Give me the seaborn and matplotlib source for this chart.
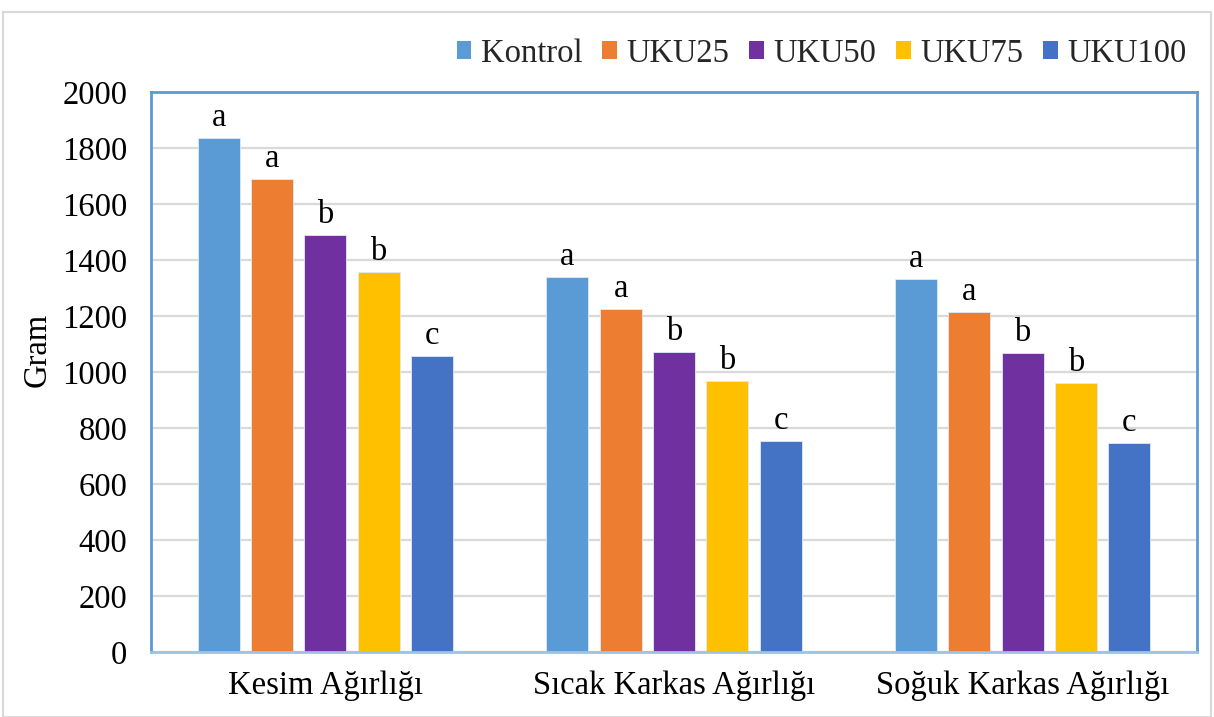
import pandas as pd
import matplotlib.pyplot as plt
import seaborn as sns
from matplotlib.patches import Patch, Rectangle

# ---------------------------------------------------------
# DATA
# ---------------------------------------------------------
categories = ["Kesim Ağırlığı", "Sıcak Karkas Ağırlığı", "Soğuk Karkas Ağırlığı"]
groups = ["Kontrol", "UKU25", "UKU50", "UKU75", "UKU100"]

kontrol = [1835, 1339, 1332]
uku25 = [1688, 1225, 1215]
uku50 = [1488, 1071, 1067]
uku75 = [1356, 968, 961]
uku100 = [1058, 754, 746]

letters_kontrol = ["a", "a", "a"]
letters_uku25 = ["a", "a", "a"]
letters_uku50 = ["b", "b", "b"]
letters_uku75 = ["b", "b", "b"]
letters_uku100 = ["c", "c", "c"]

y_ticks = [0, 200, 400, 600, 800, 1000, 1200, 1400, 1600, 1800, 2000]

colors = ["#5B9BD5", "#ED7D31", "#7030A0", "#FFC000", "#4472C4"]

series = [kontrol, uku25, uku50, uku75, uku100]
letters = [letters_kontrol, letters_uku25, letters_uku50, letters_uku75, letters_uku100]

rows = []
for g, vals in zip(groups, series):
    for c, v in zip(categories, vals):
        rows.append({"Kategori": c, "Grup": g, "Gram": v})
df = pd.DataFrame(rows)

# ---------------------------------------------------------
# PLOT
# ---------------------------------------------------------
sns.set_theme(style="white")
plt.rcParams["font.family"] = ["Liberation Serif", "DejaVu Serif"]

fig = plt.figure(figsize=(12.14, 7.17), dpi=100)
ax = fig.add_axes([151 / 1214, 1 - 652 / 717, 1046 / 1214, 560 / 717])

sns.barplot(
    data=df, x="Kategori", y="Gram", hue="Grup",
    order=categories, hue_order=groups, palette=colors,
    width=0.765, gap=0.21, saturation=1, errorbar=None,
    edgecolor="#DDEBF7", linewidth=0.6, legend=False, ax=ax,
)

# significance letters above bars
for cont, labs in zip(ax.containers, letters):
    for bar, lab in zip(cont, labs):
        ax.text(bar.get_x() + bar.get_width() / 2, bar.get_height() + 18, lab,
                ha="center", va="bottom", fontsize=23.5, color="black")

ax.set_ylim(0, 2000)
ax.set_yticks(y_ticks)
ax.set_xlim(-0.5, len(categories) - 0.5)
ax.yaxis.grid(True, color="#D9D9D9", linewidth=1.6)
ax.set_axisbelow(True)

ax.tick_params(axis="both", length=0, labelsize=23.5, colors="black")
ax.tick_params(axis="x", pad=13)
ax.tick_params(axis="y", pad=17)
ax.set_xlabel("")
ax.set_ylabel("Gram", fontsize=23.5, color="black")
ax.yaxis.set_label_coords(-0.094, 0.54)

for side in ["left", "top", "right"]:
    ax.spines[side].set_color("#5B9BD5")
    ax.spines[side].set_linewidth(2)
ax.spines["bottom"].set_color("#9DC3E6")
ax.spines["bottom"].set_linewidth(2)

handles = [Patch(facecolor=c, edgecolor="none", label=g) for c, g in zip(colors, groups)]
fig.legend(handles=handles, loc="upper right", bbox_to_anchor=(1200 / 1214, 1 - 25 / 717),
           ncol=5, frameon=False, fontsize=23.5, handlelength=0.45, handleheight=0.45,
           handletextpad=0.3, columnspacing=0.6, borderaxespad=0)

# light outer frame
fig.patches.append(Rectangle((3 / 1214, 0), 1208 / 1214, 1 - 12 / 717,
                             transform=fig.transFigure, fill=False,
                             edgecolor="#D9D9D9", linewidth=1.5))

fig.savefig("out.png", dpi=100)
